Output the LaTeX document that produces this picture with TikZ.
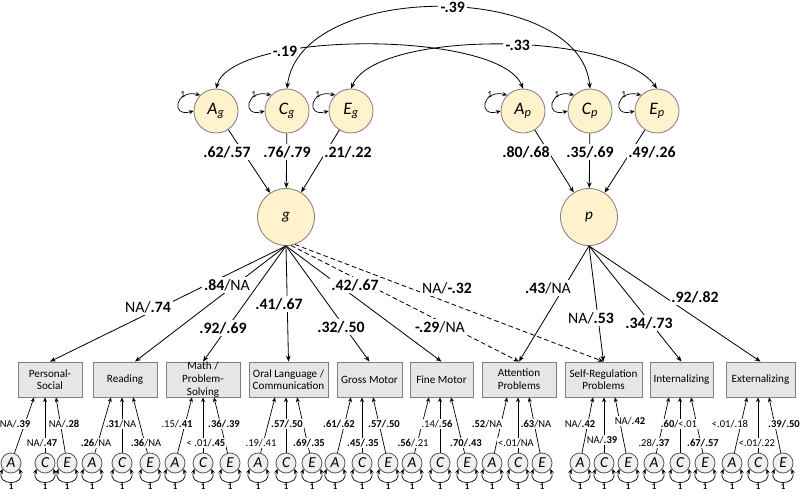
\documentclass[tikz,border=0pt]{standalone}
\usepackage{fontspec}
\setmainfont{Carlito}
\usetikzlibrary{arrows.meta}
\definecolor{latfill}{RGB}{255,242,204}
\definecolor{latline}{RGB}{127,127,127}
\definecolor{boxfill}{RGB}{230,230,230}
\definecolor{boxline}{RGB}{127,127,127}
\definecolor{unifill}{RGB}{240,240,240}
\definecolor{uniline}{RGB}{89,89,89}
\newcommand{\acef}[2]{#1\textsubscript{#2}}
\tikzstyle{sem}=[x=0.03cm, y=0.03cm, >={Stealth[length=5pt,width=4pt]}, line width=0.7pt]
\tikzstyle{lat}=[circle, draw=latline, fill=latfill, minimum size=1.32cm, inner sep=0pt, font=\fontsize{15}{16}\selectfont\itshape]
\tikzstyle{fac}=[circle, draw=latline, fill=latfill, minimum size=1.71cm, inner sep=0pt, font=\fontsize{13}{14}\selectfont\itshape]
\tikzstyle{obs}=[rectangle, draw=boxline, fill=boxfill, minimum height=1.05cm, inner sep=0pt, align=center, font=\fontsize{9.5}{10.8}\selectfont]
\tikzstyle{uni}=[circle, draw=uniline, fill=unifill, minimum size=0.6cm, inner sep=0pt, font=\fontsize{13}{14}\selectfont\itshape]
\tikzstyle{load}=[fill=white, inner sep=1.5pt, font=\fontsize{13.5}{15}\selectfont]
\tikzstyle{cov}=[fill=white, inner sep=2pt, font=\fontsize{13.5}{15}\selectfont\bfseries]
\tikzstyle{res}=[fill=white, inner sep=1pt, font=\fontsize{9}{10.5}\selectfont]
\tikzstyle{one}=[inner sep=1pt, font=\fontsize{7.5}{8}\selectfont\bfseries]
\tikzstyle{smalltip}=[>={Stealth[length=4pt,width=3.5pt]}, line width=0.6pt]

\begin{document}
\begin{tikzpicture}[sem]
  \useasboundingbox (0,0) rectangle (800,-494);
  % A, C, E of g and p
  \node[lat] (Ag) at (216,-111) {\acef{A}{g}};
  \node[lat] (Cg) at (287,-111) {\acef{C}{g}};
  \node[lat] (Eg) at (351,-111) {\acef{E}{g}};
  \node[lat] (Ap) at (523,-111) {\acef{A}{p}};
  \node[lat] (Cp) at (590,-111) {\acef{C}{p}};
  \node[lat] (Ep) at (657,-111) {\acef{E}{p}};
  \node[fac] (g) at (286,-217) {g};
  \node[fac] (p) at (589,-217) {p};
  % scales
  \node[obs, minimum width=1.92cm] (b1) at (50,-379.5) {Personal-\\Social};
  \node[obs, minimum width=1.92cm] (b2) at (125,-379.5) {Reading};
  \node[obs, minimum width=2.22cm] (b3) at (203,-379.5) {Math /\\Problem-\\Solving};
  \node[obs, minimum width=2.37cm] (b4) at (288.5,-379.5) {Oral Language /\\Communication};
  \node[obs, minimum width=1.95cm] (b5) at (369.5,-379.5) {Gross Motor};
  \node[obs, minimum width=1.89cm] (b6) at (441.5,-379.5) {Fine Motor};
  \node[obs, minimum width=2.22cm] (b7) at (519,-379.5) {Attention\\Problems};
  \node[obs, minimum width=2.31cm] (b8) at (603.5,-379.5) {Self-Regulation\\Problems};
  \node[obs, minimum width=1.89cm] (b9) at (681.5,-379.5) {Internalizing};
  \node[obs, minimum width=2.07cm] (b10) at (760.5,-379.5) {Externalizing};

  % variances of the top factors
  \foreach \f in {Ag,Cg,Eg,Ap,Cp,Ep}
    \draw[<->, smalltip] (\f.135) .. controls +(165:7.5mm) and +(195:7.5mm) ..
      node[pos=0.2, left, inner sep=2pt, font=\fontsize{8}{9}\selectfont] {1} (\f.180);

  % covariances
  \draw[<->] (Ag.north) .. controls (232,-30) and (500,-30) .. node[cov, pos=0.3] (c1) {-.19} (Ap.north);
  \draw[<->] (Cg.north) .. controls (300,20) and (580,20) .. node[cov, pos=0.53] (c2) {-.39} (Cp.north);
  \draw[<->] (Eg.north) .. controls (375,-30) and (615,-30) .. node[cov, pos=0.55] (c3) {-.33} (Ep.north);

  \draw[->] (Ag) -- (g);
  \draw[->] (Cg) -- (g);
  \draw[->] (Eg) -- (g);
  \draw[->] (Ap) -- (p);
  \draw[->] (Cp) -- (p);
  \draw[->] (Ep) -- (p);

  \draw[->] (g.south) -- (b1.north);
  \draw[->] (g.south) -- ([xshift=3mm]b2.north);
  \draw[->] (g.south) -- (b3.north);
  \draw[->] (g.south) -- (b4.north);
  \draw[->] (g.south) -- (b5.north);
  \draw[->] (g.south) -- (b6.north);
  \draw[->, dash pattern=on 4pt off 2.5pt] (g.-80) -- (b7.north);
  \draw[->, dash pattern=on 4pt off 2.5pt] (g.-72) -- (b8.north);
  \draw[->] (p.south) -- (b7.north);
  \draw[->] (p.south) -- (b8.north);
  \draw[->] (p.south) -- (b9.north);
  \draw[->] (p.south) -- (b10.north);

  % residual A, C, E of each scale
  \foreach \n/\xa/\xc/\xe in {1/11/45/67, 2/92/122/150, 3/175/203/230, 4/258/286/312,
      5/335/362/388, 6/412/440/467, 7/492/518/542, 8/580/604/628, 9/654/680/705, 10/732/758/783} {
    \node[uni] (A\n) at (\xa,-463) {A};
    \node[uni] (C\n) at (\xc,-463) {C};
    \node[uni] (E\n) at (\xe,-463) {E};
    \coordinate (t\n) at (C\n |- b\n.south);
    \draw[->, smalltip] (A\n) -- ([xshift=-3.3mm]t\n);
    \draw[->, smalltip] (C\n) -- (t\n);
    \draw[->, smalltip] (E\n) -- ([xshift=3.3mm]t\n);
    \foreach \f in {A,C,E}
      \draw[<->, smalltip] (\f\n.-145) .. controls +(-110:5.5mm) and +(-70:5.5mm) ..
        node[one, below] {1} (\f\n.-35);
  }

  % loadings
  \node[load] (lAg) at (227,-152) {\textbf{.62/.57}};
  \node[load] (lCg) at (287,-152) {\textbf{.76/.79}};
  \node[load] (lEg) at (348,-152) {\textbf{.21/.22}};
  \node[load] (lAp) at (526,-152) {\textbf{.80/.68}};
  \node[load] (lCp) at (590,-152) {\textbf{.35/.69}};
  \node[load] (lEp) at (652,-152) {\textbf{.49/.26}};
  \node[load] (lg1) at (148,-307) {NA/\textbf{.74}};
  \node[load] (lg2) at (227,-285) {\textbf{.84}/NA};
  \node[load] (lg3) at (223,-328) {\textbf{.92/.69}};
  \node[load] (lg4) at (279,-304) {\textbf{.41/.67}};
  \node[load] (lg5) at (341,-327) {\textbf{.32/.50}};
  \node[load] (lg6) at (355,-285) {\textbf{.42/.67}};
  \node[load] (lg7) at (440,-327) {\textbf{-.29}/NA};
  \node[load] (lg8) at (447,-288) {NA/\textbf{-.32}};
  \node[load] (lp7) at (548,-288) {\textbf{.43}/NA};
  \node[load] (lp8) at (591,-318) {NA/\textbf{.53}};
  \node[load] (lp9) at (649,-323) {\textbf{.34/.73}};
  \node[load] (lp10) at (695,-297) {\textbf{.92/.82}};

  % residual paths
  \node[res] (rA1) at (15,-424) {NA/\textbf{.39}};
  \node[res] (rC1) at (42,-443) {NA/\textbf{.47}};
  \node[res] (rE1) at (64,-424) {NA/\textbf{.28}};
  \node[res] (rA2) at (96,-443) {\textbf{.26}/NA};
  \node[res] (rC2) at (121,-424) {\textbf{.31}/NA};
  \node[res] (rE2) at (146,-443) {\textbf{.36}/NA};
  \node[res] (rA3) at (177,-424) {.15/\textbf{.41}};
  \node[res] (rC3) at (206,-443) {< .01/\textbf{.45}};
  \node[res] (rE3) at (224,-424) {\textbf{.36/.39}};
  \node[res] (rA4) at (261,-443) {.19/.41};
  \node[res] (rC4) at (287,-424) {\textbf{.57/.50}};
  \node[res] (rE4) at (309,-443) {\textbf{.69/.35}};
  \node[res] (rA5) at (339,-424) {\textbf{.61/.62}};
  \node[res] (rC5) at (363,-443) {\textbf{.45/.35}};
  \node[res] (rE5) at (384,-424) {\textbf{.57/.50}};
  \node[res] (rA6) at (413,-443) {\textbf{.56}/.21};
  \node[res] (rC6) at (437,-424) {.14/\textbf{.56}};
  \node[res] (rE6) at (466,-443) {\textbf{.70/.43}};
  \node[res] (rA7) at (487,-424) {\textbf{.52}/NA};
  \node[res] (rC7) at (516,-443) {<.01/NA};
  \node[res] (rE7) at (536,-424) {\textbf{.63}/NA};
  \node[res] (rA8) at (580,-424) {NA/\textbf{.42}};
  \node[res] (rC8) at (602,-440) {NA/\textbf{.39}};
  \node[res] (rE8) at (630,-421) {NA/\textbf{.42}};
  \node[res] (rA9) at (654,-443) {.28/\textbf{.37}};
  \node[res] (rC9) at (679,-424) {\textbf{.60}/<.01};
  \node[res] (rE9) at (703,-443) {\textbf{.67/.57}};
  \node[res] (rA10) at (730,-424) {<.01/.18};
  \node[res] (rC10) at (757,-443) {<.01/.22};
  \node[res] (rE10) at (784,-424) {\textbf{.39/.50}};
\end{tikzpicture}
\end{document}
